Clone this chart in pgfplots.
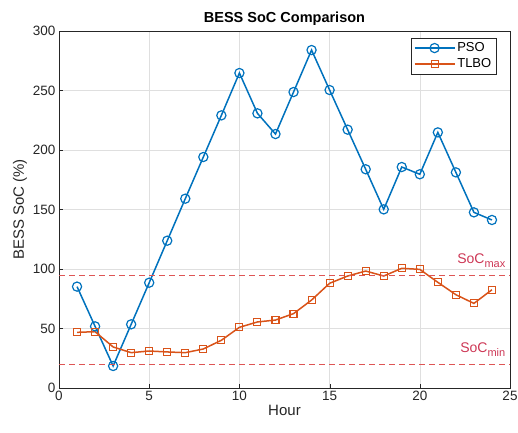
\documentclass[border=0pt]{standalone}
\usepackage{pgfplots}
\pgfplotsset{compat=1.18}
\usepackage{fontspec}
\setmainfont{Liberation Sans}
\definecolor{psoblue}{RGB}{0,114,189}
\definecolor{tlboorange}{RGB}{217,83,25}
\definecolor{limred}{RGB}{222,85,85}
\definecolor{limtext}{RGB}{205,55,85}
\definecolor{axgray}{RGB}{38,38,38}
\begin{document}
\begin{tikzpicture}[x=1pt,y=1pt]
\path[use as bounding box] (0,0) rectangle (518,432);
\begin{axis}[
  at={(59pt,44pt)}, anchor=south west,
  scale only axis, width=451pt, height=357pt,
  xmin=0, xmax=25, ymin=0, ymax=300,
  xtick={0,5,10,15,20,25}, ytick={0,50,100,150,200,250,300},
  grid=major, grid style={gray!25, line width=0.5pt},
  axis line style={axgray, line width=0.6pt},
  tick style={axgray},
  tick align=inside, major tick length=4pt,
  xtick pos=bottom, ytick pos=left,
  ticklabel style={font=\fontsize{13.5}{15}\selectfont, text=axgray},
  /pgf/number format/assume math mode=true,
  title={\textbf{BESS SoC Comparison}},
  title style={font=\fontsize{14.5}{16}\selectfont, yshift=-4pt},
  xlabel={Hour}, ylabel={BESS SoC (\%)},
  label style={font=\fontsize{15}{17}\selectfont, text=axgray},
  xlabel style={yshift=3pt},
  ylabel style={yshift=-1pt},
  legend style={at={(0.97,0.983)}, anchor=north east, yshift=-0.5pt, font=\fontsize{13}{15}\selectfont,
    draw=axgray, inner xsep=3pt, inner ysep=3pt, row sep=1.5pt},
  legend cell align=left,
  legend image code/.code={\draw[line width=1.5pt, mark repeat=2,mark phase=2] plot coordinates {(0pt,0pt)(20pt,0pt)(40pt,0pt)};},
]
\addplot[psoblue, line width=1.5pt, mark=o, mark size=4.6pt, mark options={line width=1.2pt}] coordinates {
(1,85.2)(2,51.8)(3,18.5)(4,53.5)(5,88.5)(6,123.8)(7,159.1)(8,194.1)(9,229.1)(10,264.7)
(11,230.8)(12,213.4)(13,248.7)(14,284.0)(15,250.4)(16,217.1)(17,183.8)(18,150.1)(19,185.7)(20,179.6)
(21,214.8)(22,181.2)(23,147.6)(24,141.2)};
\addlegendentry{PSO}
\addplot[tlboorange, line width=1.5pt, mark=square, mark size=3.5pt, mark options={line width=1.1pt}] coordinates {
(1,46.8)(2,47.3)(3,34.5)(4,29.7)(5,31.1)(6,30.3)(7,29.7)(8,32.8)(9,40.1)(10,51.0)
(11,55.5)(12,57.1)(13,62.5)(14,73.9)(15,88.0)(16,94.1)(17,98.3)(18,94.1)(19,100.6)(20,99.7)
(21,88.8)(22,78.4)(23,71.1)(24,82.6)};
\addlegendentry{TLBO}
\addplot[limred, line width=0.9pt, dash pattern=on 6pt off 4pt, forget plot] coordinates {(0,95)(25,95)};
\addplot[limred, line width=0.9pt, dash pattern=on 6pt off 4pt, forget plot] coordinates {(0,20)(25,20)};
\node[anchor=base east, text=limtext, font=\fontsize{14}{16}\selectfont, inner sep=0pt] at (axis cs:24.75,104.5) {SoC\raisebox{-4pt}{\fontsize{11}{12}\selectfont max}};
\node[anchor=base east, text=limtext, font=\fontsize{14}{16}\selectfont, inner sep=0pt] at (axis cs:24.75,29.5) {SoC\raisebox{-4pt}{\fontsize{11}{12}\selectfont min}};
\end{axis}
\end{tikzpicture}
\end{document}
